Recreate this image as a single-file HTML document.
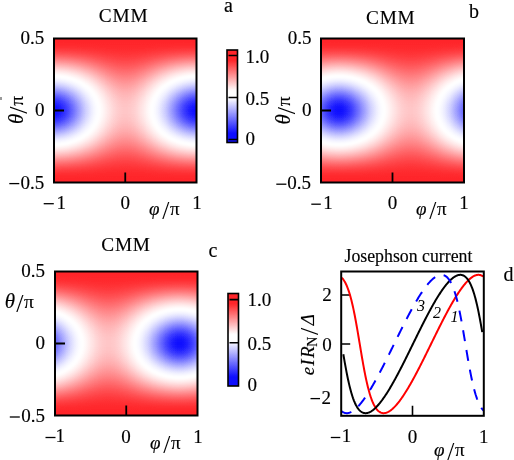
<!DOCTYPE html>
<html><head><meta charset="utf-8"><style>
html,body{margin:0;padding:0;background:#fff;width:514px;height:460px;overflow:hidden}
svg{display:block;will-change:transform}
#w{}
text{fill:#000;stroke:#000;stroke-width:0.15px}
</style></head><body><div id="w"><svg width="514" height="460" viewBox="0 0 514 460" font-family='"Liberation Serif", serif'><defs><filter id="cm" x="0" y="0" width="1" height="1" color-interpolation-filters="sRGB"><feComponentTransfer><feFuncR type="table" tableValues="1.000 1.000 1.000 1.000 1.000 1.000 1.000 1.000 1.000 1.000 1.000 1.000 1.000 1.000 1.000 1.000 1.000 1.000 1.000 1.000 1.000 1.000 1.000 1.000 1.000 1.000 1.000 1.000 1.000 1.000 1.000 1.000 1.000 0.997 0.992 0.983 0.973 0.960 0.945 0.929 0.911 0.891 0.870 0.847 0.822 0.796 0.769 0.740 0.710 0.679 0.646 0.612 0.577 0.540 0.502 0.463 0.423 0.381 0.339 0.295 0.250 0.204 0.157 0.108 0.059"/><feFuncG type="table" tableValues="0.149 0.187 0.225 0.262 0.299 0.335 0.370 0.405 0.439 0.473 0.506 0.538 0.570 0.600 0.631 0.660 0.689 0.716 0.743 0.770 0.795 0.819 0.842 0.865 0.886 0.906 0.925 0.942 0.958 0.973 0.985 0.994 1.000 0.997 0.992 0.983 0.973 0.960 0.945 0.929 0.911 0.891 0.870 0.847 0.822 0.796 0.769 0.740 0.710 0.679 0.646 0.612 0.577 0.540 0.502 0.463 0.423 0.381 0.339 0.295 0.250 0.204 0.157 0.108 0.059"/><feFuncB type="table" tableValues="0.165 0.202 0.239 0.276 0.312 0.347 0.382 0.416 0.450 0.483 0.515 0.546 0.577 0.608 0.637 0.666 0.694 0.722 0.748 0.774 0.799 0.822 0.845 0.867 0.888 0.908 0.926 0.943 0.959 0.973 0.985 0.995 1.000 1.000 1.000 1.000 1.000 1.000 1.000 1.000 1.000 1.000 1.000 1.000 1.000 1.000 1.000 1.000 1.000 1.000 1.000 1.000 1.000 1.000 1.000 1.000 1.000 1.000 1.000 1.000 1.000 1.000 1.000 1.000 1.000"/></feComponentTransfer></filter><filter id="cmb" x="0" y="0" width="1" height="1" color-interpolation-filters="sRGB"><feComponentTransfer><feFuncR type="table" tableValues="1.000 1.000 1.000 1.000 1.000 1.000 1.000 1.000 1.000 1.000 1.000 1.000 1.000 1.000 1.000 1.000 1.000 1.000 1.000 1.000 1.000 1.000 1.000 1.000 1.000 1.000 1.000 1.000 1.000 1.000 1.000 1.000 1.000 1.000 0.972 0.933 0.895 0.856 0.817 0.779 0.740 0.701 0.663 0.624 0.585 0.546 0.508 0.469 0.430 0.392 0.353 0.314 0.276 0.237 0.198 0.159 0.121 0.082 0.059 0.059 0.059 0.059 0.059 0.059 0.059"/><feFuncG type="table" tableValues="0.149 0.149 0.149 0.149 0.149 0.149 0.149 0.149 0.188 0.228 0.268 0.309 0.349 0.389 0.429 0.470 0.510 0.550 0.591 0.631 0.671 0.712 0.752 0.792 0.832 0.873 0.913 0.953 0.994 1.000 1.000 1.000 1.000 1.000 0.972 0.933 0.895 0.856 0.817 0.779 0.740 0.701 0.663 0.624 0.585 0.546 0.508 0.469 0.430 0.392 0.353 0.314 0.276 0.237 0.198 0.159 0.121 0.082 0.059 0.059 0.059 0.059 0.059 0.059 0.059"/><feFuncB type="table" tableValues="0.165 0.165 0.165 0.165 0.165 0.165 0.165 0.165 0.203 0.242 0.282 0.321 0.361 0.400 0.440 0.480 0.519 0.559 0.598 0.638 0.677 0.717 0.756 0.796 0.835 0.875 0.915 0.954 0.994 1.000 1.000 1.000 1.000 1.000 1.000 1.000 1.000 1.000 1.000 1.000 1.000 1.000 1.000 1.000 1.000 1.000 1.000 1.000 1.000 1.000 1.000 1.000 1.000 1.000 1.000 1.000 1.000 1.000 1.000 1.000 1.000 1.000 1.000 1.000 1.000"/></feComponentTransfer></filter><linearGradient id="ha" x1="0" y1="0" x2="1" y2="0"><stop offset="0.0000" stop-color="rgb(255.0,255.0,255.0)"/><stop offset="0.0125" stop-color="rgb(254.6,254.6,254.6)"/><stop offset="0.0250" stop-color="rgb(253.6,253.6,253.6)"/><stop offset="0.0375" stop-color="rgb(251.9,251.9,251.9)"/><stop offset="0.0500" stop-color="rgb(249.7,249.7,249.7)"/><stop offset="0.0625" stop-color="rgb(247.0,247.0,247.0)"/><stop offset="0.0750" stop-color="rgb(243.7,243.7,243.7)"/><stop offset="0.0875" stop-color="rgb(240.0,240.0,240.0)"/><stop offset="0.1000" stop-color="rgb(235.8,235.8,235.8)"/><stop offset="0.1125" stop-color="rgb(231.2,231.2,231.2)"/><stop offset="0.1250" stop-color="rgb(226.2,226.2,226.2)"/><stop offset="0.1375" stop-color="rgb(220.9,220.9,220.9)"/><stop offset="0.1500" stop-color="rgb(215.2,215.2,215.2)"/><stop offset="0.1625" stop-color="rgb(209.2,209.2,209.2)"/><stop offset="0.1750" stop-color="rgb(203.0,203.0,203.0)"/><stop offset="0.1875" stop-color="rgb(196.6,196.6,196.6)"/><stop offset="0.2000" stop-color="rgb(190.0,190.0,190.0)"/><stop offset="0.2125" stop-color="rgb(183.2,183.2,183.2)"/><stop offset="0.2250" stop-color="rgb(176.4,176.4,176.4)"/><stop offset="0.2375" stop-color="rgb(169.5,169.5,169.5)"/><stop offset="0.2500" stop-color="rgb(162.6,162.6,162.6)"/><stop offset="0.2625" stop-color="rgb(155.7,155.7,155.7)"/><stop offset="0.2750" stop-color="rgb(148.9,148.9,148.9)"/><stop offset="0.2875" stop-color="rgb(142.2,142.2,142.2)"/><stop offset="0.3000" stop-color="rgb(135.7,135.7,135.7)"/><stop offset="0.3125" stop-color="rgb(129.3,129.3,129.3)"/><stop offset="0.3250" stop-color="rgb(123.1,123.1,123.1)"/><stop offset="0.3375" stop-color="rgb(117.3,117.3,117.3)"/><stop offset="0.3500" stop-color="rgb(111.6,111.6,111.6)"/><stop offset="0.3625" stop-color="rgb(106.4,106.4,106.4)"/><stop offset="0.3750" stop-color="rgb(101.4,101.4,101.4)"/><stop offset="0.3875" stop-color="rgb(96.9,96.9,96.9)"/><stop offset="0.4000" stop-color="rgb(92.7,92.7,92.7)"/><stop offset="0.4125" stop-color="rgb(89.0,89.0,89.0)"/><stop offset="0.4250" stop-color="rgb(85.8,85.8,85.8)"/><stop offset="0.4375" stop-color="rgb(83.0,83.0,83.0)"/><stop offset="0.4500" stop-color="rgb(80.7,80.7,80.7)"/><stop offset="0.4625" stop-color="rgb(78.8,78.8,78.8)"/><stop offset="0.4750" stop-color="rgb(77.5,77.5,77.5)"/><stop offset="0.4875" stop-color="rgb(76.8,76.8,76.8)"/><stop offset="0.5000" stop-color="rgb(76.5,76.5,76.5)"/><stop offset="0.5125" stop-color="rgb(76.8,76.8,76.8)"/><stop offset="0.5250" stop-color="rgb(77.5,77.5,77.5)"/><stop offset="0.5375" stop-color="rgb(78.8,78.8,78.8)"/><stop offset="0.5500" stop-color="rgb(80.7,80.7,80.7)"/><stop offset="0.5625" stop-color="rgb(83.0,83.0,83.0)"/><stop offset="0.5750" stop-color="rgb(85.8,85.8,85.8)"/><stop offset="0.5875" stop-color="rgb(89.0,89.0,89.0)"/><stop offset="0.6000" stop-color="rgb(92.7,92.7,92.7)"/><stop offset="0.6125" stop-color="rgb(96.9,96.9,96.9)"/><stop offset="0.6250" stop-color="rgb(101.4,101.4,101.4)"/><stop offset="0.6375" stop-color="rgb(106.4,106.4,106.4)"/><stop offset="0.6500" stop-color="rgb(111.6,111.6,111.6)"/><stop offset="0.6625" stop-color="rgb(117.3,117.3,117.3)"/><stop offset="0.6750" stop-color="rgb(123.1,123.1,123.1)"/><stop offset="0.6875" stop-color="rgb(129.3,129.3,129.3)"/><stop offset="0.7000" stop-color="rgb(135.7,135.7,135.7)"/><stop offset="0.7125" stop-color="rgb(142.2,142.2,142.2)"/><stop offset="0.7250" stop-color="rgb(148.9,148.9,148.9)"/><stop offset="0.7375" stop-color="rgb(155.7,155.7,155.7)"/><stop offset="0.7500" stop-color="rgb(162.6,162.6,162.6)"/><stop offset="0.7625" stop-color="rgb(169.5,169.5,169.5)"/><stop offset="0.7750" stop-color="rgb(176.4,176.4,176.4)"/><stop offset="0.7875" stop-color="rgb(183.2,183.2,183.2)"/><stop offset="0.8000" stop-color="rgb(190.0,190.0,190.0)"/><stop offset="0.8125" stop-color="rgb(196.6,196.6,196.6)"/><stop offset="0.8250" stop-color="rgb(203.0,203.0,203.0)"/><stop offset="0.8375" stop-color="rgb(209.2,209.2,209.2)"/><stop offset="0.8500" stop-color="rgb(215.2,215.2,215.2)"/><stop offset="0.8625" stop-color="rgb(220.9,220.9,220.9)"/><stop offset="0.8750" stop-color="rgb(226.2,226.2,226.2)"/><stop offset="0.8875" stop-color="rgb(231.2,231.2,231.2)"/><stop offset="0.9000" stop-color="rgb(235.8,235.8,235.8)"/><stop offset="0.9125" stop-color="rgb(240.0,240.0,240.0)"/><stop offset="0.9250" stop-color="rgb(243.7,243.7,243.7)"/><stop offset="0.9375" stop-color="rgb(247.0,247.0,247.0)"/><stop offset="0.9500" stop-color="rgb(249.7,249.7,249.7)"/><stop offset="0.9625" stop-color="rgb(251.9,251.9,251.9)"/><stop offset="0.9750" stop-color="rgb(253.6,253.6,253.6)"/><stop offset="0.9875" stop-color="rgb(254.6,254.6,254.6)"/><stop offset="1.0000" stop-color="rgb(255.0,255.0,255.0)"/></linearGradient><linearGradient id="va" x1="0" y1="0" x2="0" y2="1"><stop offset="0.0000" stop-color="#000" stop-opacity="1.0000"/><stop offset="0.0208" stop-color="#000" stop-opacity="1.0000"/><stop offset="0.0417" stop-color="#000" stop-opacity="0.9965"/><stop offset="0.0625" stop-color="#000" stop-opacity="0.9838"/><stop offset="0.0833" stop-color="#000" stop-opacity="0.9619"/><stop offset="0.1042" stop-color="#000" stop-opacity="0.9314"/><stop offset="0.1250" stop-color="#000" stop-opacity="0.8927"/><stop offset="0.1458" stop-color="#000" stop-opacity="0.8465"/><stop offset="0.1667" stop-color="#000" stop-opacity="0.7939"/><stop offset="0.1875" stop-color="#000" stop-opacity="0.7357"/><stop offset="0.2083" stop-color="#000" stop-opacity="0.6731"/><stop offset="0.2292" stop-color="#000" stop-opacity="0.6072"/><stop offset="0.2500" stop-color="#000" stop-opacity="0.5392"/><stop offset="0.2708" stop-color="#000" stop-opacity="0.4706"/><stop offset="0.2917" stop-color="#000" stop-opacity="0.4025"/><stop offset="0.3125" stop-color="#000" stop-opacity="0.3362"/><stop offset="0.3333" stop-color="#000" stop-opacity="0.2730"/><stop offset="0.3542" stop-color="#000" stop-opacity="0.2141"/><stop offset="0.3750" stop-color="#000" stop-opacity="0.1606"/><stop offset="0.3958" stop-color="#000" stop-opacity="0.1135"/><stop offset="0.4167" stop-color="#000" stop-opacity="0.0737"/><stop offset="0.4375" stop-color="#000" stop-opacity="0.0419"/><stop offset="0.4583" stop-color="#000" stop-opacity="0.0188"/><stop offset="0.4792" stop-color="#000" stop-opacity="0.0047"/><stop offset="0.5000" stop-color="#000" stop-opacity="0.0000"/><stop offset="0.5208" stop-color="#000" stop-opacity="0.0047"/><stop offset="0.5417" stop-color="#000" stop-opacity="0.0188"/><stop offset="0.5625" stop-color="#000" stop-opacity="0.0419"/><stop offset="0.5833" stop-color="#000" stop-opacity="0.0737"/><stop offset="0.6042" stop-color="#000" stop-opacity="0.1135"/><stop offset="0.6250" stop-color="#000" stop-opacity="0.1606"/><stop offset="0.6458" stop-color="#000" stop-opacity="0.2141"/><stop offset="0.6667" stop-color="#000" stop-opacity="0.2730"/><stop offset="0.6875" stop-color="#000" stop-opacity="0.3362"/><stop offset="0.7083" stop-color="#000" stop-opacity="0.4025"/><stop offset="0.7292" stop-color="#000" stop-opacity="0.4706"/><stop offset="0.7500" stop-color="#000" stop-opacity="0.5392"/><stop offset="0.7708" stop-color="#000" stop-opacity="0.6072"/><stop offset="0.7917" stop-color="#000" stop-opacity="0.6731"/><stop offset="0.8125" stop-color="#000" stop-opacity="0.7357"/><stop offset="0.8333" stop-color="#000" stop-opacity="0.7939"/><stop offset="0.8542" stop-color="#000" stop-opacity="0.8465"/><stop offset="0.8750" stop-color="#000" stop-opacity="0.8927"/><stop offset="0.8958" stop-color="#000" stop-opacity="0.9314"/><stop offset="0.9167" stop-color="#000" stop-opacity="0.9619"/><stop offset="0.9375" stop-color="#000" stop-opacity="0.9838"/><stop offset="0.9583" stop-color="#000" stop-opacity="0.9965"/><stop offset="0.9792" stop-color="#000" stop-opacity="1.0000"/><stop offset="1.0000" stop-color="#000" stop-opacity="1.0000"/></linearGradient><linearGradient id="hb" x1="0" y1="0" x2="1" y2="0"><stop offset="0.0000" stop-color="rgb(226.2,226.2,226.2)"/><stop offset="0.0125" stop-color="rgb(231.2,231.2,231.2)"/><stop offset="0.0250" stop-color="rgb(235.8,235.8,235.8)"/><stop offset="0.0375" stop-color="rgb(240.0,240.0,240.0)"/><stop offset="0.0500" stop-color="rgb(243.7,243.7,243.7)"/><stop offset="0.0625" stop-color="rgb(247.0,247.0,247.0)"/><stop offset="0.0750" stop-color="rgb(249.7,249.7,249.7)"/><stop offset="0.0875" stop-color="rgb(251.9,251.9,251.9)"/><stop offset="0.1000" stop-color="rgb(253.6,253.6,253.6)"/><stop offset="0.1125" stop-color="rgb(254.6,254.6,254.6)"/><stop offset="0.1250" stop-color="rgb(255.0,255.0,255.0)"/><stop offset="0.1375" stop-color="rgb(254.6,254.6,254.6)"/><stop offset="0.1500" stop-color="rgb(253.6,253.6,253.6)"/><stop offset="0.1625" stop-color="rgb(251.9,251.9,251.9)"/><stop offset="0.1750" stop-color="rgb(249.7,249.7,249.7)"/><stop offset="0.1875" stop-color="rgb(247.0,247.0,247.0)"/><stop offset="0.2000" stop-color="rgb(243.7,243.7,243.7)"/><stop offset="0.2125" stop-color="rgb(240.0,240.0,240.0)"/><stop offset="0.2250" stop-color="rgb(235.8,235.8,235.8)"/><stop offset="0.2375" stop-color="rgb(231.2,231.2,231.2)"/><stop offset="0.2500" stop-color="rgb(226.2,226.2,226.2)"/><stop offset="0.2625" stop-color="rgb(220.9,220.9,220.9)"/><stop offset="0.2750" stop-color="rgb(215.2,215.2,215.2)"/><stop offset="0.2875" stop-color="rgb(209.2,209.2,209.2)"/><stop offset="0.3000" stop-color="rgb(203.0,203.0,203.0)"/><stop offset="0.3125" stop-color="rgb(196.6,196.6,196.6)"/><stop offset="0.3250" stop-color="rgb(190.0,190.0,190.0)"/><stop offset="0.3375" stop-color="rgb(183.2,183.2,183.2)"/><stop offset="0.3500" stop-color="rgb(176.4,176.4,176.4)"/><stop offset="0.3625" stop-color="rgb(169.5,169.5,169.5)"/><stop offset="0.3750" stop-color="rgb(162.6,162.6,162.6)"/><stop offset="0.3875" stop-color="rgb(155.7,155.7,155.7)"/><stop offset="0.4000" stop-color="rgb(148.9,148.9,148.9)"/><stop offset="0.4125" stop-color="rgb(142.2,142.2,142.2)"/><stop offset="0.4250" stop-color="rgb(135.7,135.7,135.7)"/><stop offset="0.4375" stop-color="rgb(129.3,129.3,129.3)"/><stop offset="0.4500" stop-color="rgb(123.1,123.1,123.1)"/><stop offset="0.4625" stop-color="rgb(117.3,117.3,117.3)"/><stop offset="0.4750" stop-color="rgb(111.6,111.6,111.6)"/><stop offset="0.4875" stop-color="rgb(106.4,106.4,106.4)"/><stop offset="0.5000" stop-color="rgb(101.4,101.4,101.4)"/><stop offset="0.5125" stop-color="rgb(96.9,96.9,96.9)"/><stop offset="0.5250" stop-color="rgb(92.7,92.7,92.7)"/><stop offset="0.5375" stop-color="rgb(89.0,89.0,89.0)"/><stop offset="0.5500" stop-color="rgb(85.8,85.8,85.8)"/><stop offset="0.5625" stop-color="rgb(83.0,83.0,83.0)"/><stop offset="0.5750" stop-color="rgb(80.7,80.7,80.7)"/><stop offset="0.5875" stop-color="rgb(78.8,78.8,78.8)"/><stop offset="0.6000" stop-color="rgb(77.5,77.5,77.5)"/><stop offset="0.6125" stop-color="rgb(76.8,76.8,76.8)"/><stop offset="0.6250" stop-color="rgb(76.5,76.5,76.5)"/><stop offset="0.6375" stop-color="rgb(76.8,76.8,76.8)"/><stop offset="0.6500" stop-color="rgb(77.5,77.5,77.5)"/><stop offset="0.6625" stop-color="rgb(78.8,78.8,78.8)"/><stop offset="0.6750" stop-color="rgb(80.7,80.7,80.7)"/><stop offset="0.6875" stop-color="rgb(83.0,83.0,83.0)"/><stop offset="0.7000" stop-color="rgb(85.8,85.8,85.8)"/><stop offset="0.7125" stop-color="rgb(89.0,89.0,89.0)"/><stop offset="0.7250" stop-color="rgb(92.7,92.7,92.7)"/><stop offset="0.7375" stop-color="rgb(96.9,96.9,96.9)"/><stop offset="0.7500" stop-color="rgb(101.4,101.4,101.4)"/><stop offset="0.7625" stop-color="rgb(106.4,106.4,106.4)"/><stop offset="0.7750" stop-color="rgb(111.6,111.6,111.6)"/><stop offset="0.7875" stop-color="rgb(117.3,117.3,117.3)"/><stop offset="0.8000" stop-color="rgb(123.1,123.1,123.1)"/><stop offset="0.8125" stop-color="rgb(129.3,129.3,129.3)"/><stop offset="0.8250" stop-color="rgb(135.7,135.7,135.7)"/><stop offset="0.8375" stop-color="rgb(142.2,142.2,142.2)"/><stop offset="0.8500" stop-color="rgb(148.9,148.9,148.9)"/><stop offset="0.8625" stop-color="rgb(155.7,155.7,155.7)"/><stop offset="0.8750" stop-color="rgb(162.6,162.6,162.6)"/><stop offset="0.8875" stop-color="rgb(169.5,169.5,169.5)"/><stop offset="0.9000" stop-color="rgb(176.4,176.4,176.4)"/><stop offset="0.9125" stop-color="rgb(183.2,183.2,183.2)"/><stop offset="0.9250" stop-color="rgb(190.0,190.0,190.0)"/><stop offset="0.9375" stop-color="rgb(196.6,196.6,196.6)"/><stop offset="0.9500" stop-color="rgb(203.0,203.0,203.0)"/><stop offset="0.9625" stop-color="rgb(209.2,209.2,209.2)"/><stop offset="0.9750" stop-color="rgb(215.2,215.2,215.2)"/><stop offset="0.9875" stop-color="rgb(220.9,220.9,220.9)"/><stop offset="1.0000" stop-color="rgb(226.2,226.2,226.2)"/></linearGradient><linearGradient id="vb" x1="0" y1="0" x2="0" y2="1"><stop offset="0.0000" stop-color="#000" stop-opacity="1.0000"/><stop offset="0.0208" stop-color="#000" stop-opacity="1.0000"/><stop offset="0.0417" stop-color="#000" stop-opacity="0.9965"/><stop offset="0.0625" stop-color="#000" stop-opacity="0.9838"/><stop offset="0.0833" stop-color="#000" stop-opacity="0.9619"/><stop offset="0.1042" stop-color="#000" stop-opacity="0.9314"/><stop offset="0.1250" stop-color="#000" stop-opacity="0.8927"/><stop offset="0.1458" stop-color="#000" stop-opacity="0.8465"/><stop offset="0.1667" stop-color="#000" stop-opacity="0.7939"/><stop offset="0.1875" stop-color="#000" stop-opacity="0.7357"/><stop offset="0.2083" stop-color="#000" stop-opacity="0.6731"/><stop offset="0.2292" stop-color="#000" stop-opacity="0.6072"/><stop offset="0.2500" stop-color="#000" stop-opacity="0.5392"/><stop offset="0.2708" stop-color="#000" stop-opacity="0.4706"/><stop offset="0.2917" stop-color="#000" stop-opacity="0.4025"/><stop offset="0.3125" stop-color="#000" stop-opacity="0.3362"/><stop offset="0.3333" stop-color="#000" stop-opacity="0.2730"/><stop offset="0.3542" stop-color="#000" stop-opacity="0.2141"/><stop offset="0.3750" stop-color="#000" stop-opacity="0.1606"/><stop offset="0.3958" stop-color="#000" stop-opacity="0.1135"/><stop offset="0.4167" stop-color="#000" stop-opacity="0.0737"/><stop offset="0.4375" stop-color="#000" stop-opacity="0.0419"/><stop offset="0.4583" stop-color="#000" stop-opacity="0.0188"/><stop offset="0.4792" stop-color="#000" stop-opacity="0.0047"/><stop offset="0.5000" stop-color="#000" stop-opacity="0.0000"/><stop offset="0.5208" stop-color="#000" stop-opacity="0.0047"/><stop offset="0.5417" stop-color="#000" stop-opacity="0.0188"/><stop offset="0.5625" stop-color="#000" stop-opacity="0.0419"/><stop offset="0.5833" stop-color="#000" stop-opacity="0.0737"/><stop offset="0.6042" stop-color="#000" stop-opacity="0.1135"/><stop offset="0.6250" stop-color="#000" stop-opacity="0.1606"/><stop offset="0.6458" stop-color="#000" stop-opacity="0.2141"/><stop offset="0.6667" stop-color="#000" stop-opacity="0.2730"/><stop offset="0.6875" stop-color="#000" stop-opacity="0.3362"/><stop offset="0.7083" stop-color="#000" stop-opacity="0.4025"/><stop offset="0.7292" stop-color="#000" stop-opacity="0.4706"/><stop offset="0.7500" stop-color="#000" stop-opacity="0.5392"/><stop offset="0.7708" stop-color="#000" stop-opacity="0.6072"/><stop offset="0.7917" stop-color="#000" stop-opacity="0.6731"/><stop offset="0.8125" stop-color="#000" stop-opacity="0.7357"/><stop offset="0.8333" stop-color="#000" stop-opacity="0.7939"/><stop offset="0.8542" stop-color="#000" stop-opacity="0.8465"/><stop offset="0.8750" stop-color="#000" stop-opacity="0.8927"/><stop offset="0.8958" stop-color="#000" stop-opacity="0.9314"/><stop offset="0.9167" stop-color="#000" stop-opacity="0.9619"/><stop offset="0.9375" stop-color="#000" stop-opacity="0.9838"/><stop offset="0.9583" stop-color="#000" stop-opacity="0.9965"/><stop offset="0.9792" stop-color="#000" stop-opacity="1.0000"/><stop offset="1.0000" stop-color="#000" stop-opacity="1.0000"/></linearGradient><linearGradient id="hc" x1="0" y1="0" x2="1" y2="0"><stop offset="0.0000" stop-color="rgb(226.2,226.2,226.2)"/><stop offset="0.0125" stop-color="rgb(220.9,220.9,220.9)"/><stop offset="0.0250" stop-color="rgb(215.2,215.2,215.2)"/><stop offset="0.0375" stop-color="rgb(209.2,209.2,209.2)"/><stop offset="0.0500" stop-color="rgb(203.0,203.0,203.0)"/><stop offset="0.0625" stop-color="rgb(196.6,196.6,196.6)"/><stop offset="0.0750" stop-color="rgb(190.0,190.0,190.0)"/><stop offset="0.0875" stop-color="rgb(183.2,183.2,183.2)"/><stop offset="0.1000" stop-color="rgb(176.4,176.4,176.4)"/><stop offset="0.1125" stop-color="rgb(169.5,169.5,169.5)"/><stop offset="0.1250" stop-color="rgb(162.6,162.6,162.6)"/><stop offset="0.1375" stop-color="rgb(155.7,155.7,155.7)"/><stop offset="0.1500" stop-color="rgb(148.9,148.9,148.9)"/><stop offset="0.1625" stop-color="rgb(142.2,142.2,142.2)"/><stop offset="0.1750" stop-color="rgb(135.7,135.7,135.7)"/><stop offset="0.1875" stop-color="rgb(129.3,129.3,129.3)"/><stop offset="0.2000" stop-color="rgb(123.1,123.1,123.1)"/><stop offset="0.2125" stop-color="rgb(117.3,117.3,117.3)"/><stop offset="0.2250" stop-color="rgb(111.6,111.6,111.6)"/><stop offset="0.2375" stop-color="rgb(106.4,106.4,106.4)"/><stop offset="0.2500" stop-color="rgb(101.4,101.4,101.4)"/><stop offset="0.2625" stop-color="rgb(96.9,96.9,96.9)"/><stop offset="0.2750" stop-color="rgb(92.7,92.7,92.7)"/><stop offset="0.2875" stop-color="rgb(89.0,89.0,89.0)"/><stop offset="0.3000" stop-color="rgb(85.8,85.8,85.8)"/><stop offset="0.3125" stop-color="rgb(83.0,83.0,83.0)"/><stop offset="0.3250" stop-color="rgb(80.7,80.7,80.7)"/><stop offset="0.3375" stop-color="rgb(78.8,78.8,78.8)"/><stop offset="0.3500" stop-color="rgb(77.5,77.5,77.5)"/><stop offset="0.3625" stop-color="rgb(76.8,76.8,76.8)"/><stop offset="0.3750" stop-color="rgb(76.5,76.5,76.5)"/><stop offset="0.3875" stop-color="rgb(76.8,76.8,76.8)"/><stop offset="0.4000" stop-color="rgb(77.5,77.5,77.5)"/><stop offset="0.4125" stop-color="rgb(78.8,78.8,78.8)"/><stop offset="0.4250" stop-color="rgb(80.7,80.7,80.7)"/><stop offset="0.4375" stop-color="rgb(83.0,83.0,83.0)"/><stop offset="0.4500" stop-color="rgb(85.8,85.8,85.8)"/><stop offset="0.4625" stop-color="rgb(89.0,89.0,89.0)"/><stop offset="0.4750" stop-color="rgb(92.7,92.7,92.7)"/><stop offset="0.4875" stop-color="rgb(96.9,96.9,96.9)"/><stop offset="0.5000" stop-color="rgb(101.4,101.4,101.4)"/><stop offset="0.5125" stop-color="rgb(106.4,106.4,106.4)"/><stop offset="0.5250" stop-color="rgb(111.6,111.6,111.6)"/><stop offset="0.5375" stop-color="rgb(117.3,117.3,117.3)"/><stop offset="0.5500" stop-color="rgb(123.1,123.1,123.1)"/><stop offset="0.5625" stop-color="rgb(129.3,129.3,129.3)"/><stop offset="0.5750" stop-color="rgb(135.7,135.7,135.7)"/><stop offset="0.5875" stop-color="rgb(142.2,142.2,142.2)"/><stop offset="0.6000" stop-color="rgb(148.9,148.9,148.9)"/><stop offset="0.6125" stop-color="rgb(155.7,155.7,155.7)"/><stop offset="0.6250" stop-color="rgb(162.6,162.6,162.6)"/><stop offset="0.6375" stop-color="rgb(169.5,169.5,169.5)"/><stop offset="0.6500" stop-color="rgb(176.4,176.4,176.4)"/><stop offset="0.6625" stop-color="rgb(183.2,183.2,183.2)"/><stop offset="0.6750" stop-color="rgb(190.0,190.0,190.0)"/><stop offset="0.6875" stop-color="rgb(196.6,196.6,196.6)"/><stop offset="0.7000" stop-color="rgb(203.0,203.0,203.0)"/><stop offset="0.7125" stop-color="rgb(209.2,209.2,209.2)"/><stop offset="0.7250" stop-color="rgb(215.2,215.2,215.2)"/><stop offset="0.7375" stop-color="rgb(220.9,220.9,220.9)"/><stop offset="0.7500" stop-color="rgb(226.2,226.2,226.2)"/><stop offset="0.7625" stop-color="rgb(231.2,231.2,231.2)"/><stop offset="0.7750" stop-color="rgb(235.8,235.8,235.8)"/><stop offset="0.7875" stop-color="rgb(240.0,240.0,240.0)"/><stop offset="0.8000" stop-color="rgb(243.7,243.7,243.7)"/><stop offset="0.8125" stop-color="rgb(247.0,247.0,247.0)"/><stop offset="0.8250" stop-color="rgb(249.7,249.7,249.7)"/><stop offset="0.8375" stop-color="rgb(251.9,251.9,251.9)"/><stop offset="0.8500" stop-color="rgb(253.6,253.6,253.6)"/><stop offset="0.8625" stop-color="rgb(254.6,254.6,254.6)"/><stop offset="0.8750" stop-color="rgb(255.0,255.0,255.0)"/><stop offset="0.8875" stop-color="rgb(254.6,254.6,254.6)"/><stop offset="0.9000" stop-color="rgb(253.6,253.6,253.6)"/><stop offset="0.9125" stop-color="rgb(251.9,251.9,251.9)"/><stop offset="0.9250" stop-color="rgb(249.7,249.7,249.7)"/><stop offset="0.9375" stop-color="rgb(247.0,247.0,247.0)"/><stop offset="0.9500" stop-color="rgb(243.7,243.7,243.7)"/><stop offset="0.9625" stop-color="rgb(240.0,240.0,240.0)"/><stop offset="0.9750" stop-color="rgb(235.8,235.8,235.8)"/><stop offset="0.9875" stop-color="rgb(231.2,231.2,231.2)"/><stop offset="1.0000" stop-color="rgb(226.2,226.2,226.2)"/></linearGradient><linearGradient id="vc" x1="0" y1="0" x2="0" y2="1"><stop offset="0.0000" stop-color="#000" stop-opacity="1.0000"/><stop offset="0.0208" stop-color="#000" stop-opacity="1.0000"/><stop offset="0.0417" stop-color="#000" stop-opacity="0.9965"/><stop offset="0.0625" stop-color="#000" stop-opacity="0.9838"/><stop offset="0.0833" stop-color="#000" stop-opacity="0.9619"/><stop offset="0.1042" stop-color="#000" stop-opacity="0.9314"/><stop offset="0.1250" stop-color="#000" stop-opacity="0.8927"/><stop offset="0.1458" stop-color="#000" stop-opacity="0.8465"/><stop offset="0.1667" stop-color="#000" stop-opacity="0.7939"/><stop offset="0.1875" stop-color="#000" stop-opacity="0.7357"/><stop offset="0.2083" stop-color="#000" stop-opacity="0.6731"/><stop offset="0.2292" stop-color="#000" stop-opacity="0.6072"/><stop offset="0.2500" stop-color="#000" stop-opacity="0.5392"/><stop offset="0.2708" stop-color="#000" stop-opacity="0.4706"/><stop offset="0.2917" stop-color="#000" stop-opacity="0.4025"/><stop offset="0.3125" stop-color="#000" stop-opacity="0.3362"/><stop offset="0.3333" stop-color="#000" stop-opacity="0.2730"/><stop offset="0.3542" stop-color="#000" stop-opacity="0.2141"/><stop offset="0.3750" stop-color="#000" stop-opacity="0.1606"/><stop offset="0.3958" stop-color="#000" stop-opacity="0.1135"/><stop offset="0.4167" stop-color="#000" stop-opacity="0.0737"/><stop offset="0.4375" stop-color="#000" stop-opacity="0.0419"/><stop offset="0.4583" stop-color="#000" stop-opacity="0.0188"/><stop offset="0.4792" stop-color="#000" stop-opacity="0.0047"/><stop offset="0.5000" stop-color="#000" stop-opacity="0.0000"/><stop offset="0.5208" stop-color="#000" stop-opacity="0.0047"/><stop offset="0.5417" stop-color="#000" stop-opacity="0.0188"/><stop offset="0.5625" stop-color="#000" stop-opacity="0.0419"/><stop offset="0.5833" stop-color="#000" stop-opacity="0.0737"/><stop offset="0.6042" stop-color="#000" stop-opacity="0.1135"/><stop offset="0.6250" stop-color="#000" stop-opacity="0.1606"/><stop offset="0.6458" stop-color="#000" stop-opacity="0.2141"/><stop offset="0.6667" stop-color="#000" stop-opacity="0.2730"/><stop offset="0.6875" stop-color="#000" stop-opacity="0.3362"/><stop offset="0.7083" stop-color="#000" stop-opacity="0.4025"/><stop offset="0.7292" stop-color="#000" stop-opacity="0.4706"/><stop offset="0.7500" stop-color="#000" stop-opacity="0.5392"/><stop offset="0.7708" stop-color="#000" stop-opacity="0.6072"/><stop offset="0.7917" stop-color="#000" stop-opacity="0.6731"/><stop offset="0.8125" stop-color="#000" stop-opacity="0.7357"/><stop offset="0.8333" stop-color="#000" stop-opacity="0.7939"/><stop offset="0.8542" stop-color="#000" stop-opacity="0.8465"/><stop offset="0.8750" stop-color="#000" stop-opacity="0.8927"/><stop offset="0.8958" stop-color="#000" stop-opacity="0.9314"/><stop offset="0.9167" stop-color="#000" stop-opacity="0.9619"/><stop offset="0.9375" stop-color="#000" stop-opacity="0.9838"/><stop offset="0.9583" stop-color="#000" stop-opacity="0.9965"/><stop offset="0.9792" stop-color="#000" stop-opacity="1.0000"/><stop offset="1.0000" stop-color="#000" stop-opacity="1.0000"/></linearGradient><clipPath id="dclip"><rect x="341.2" y="271.5" width="142.6" height="144.3"/></clipPath></defs><g filter="url(#cm)"><rect x="54" y="38.5" width="142.5" height="144" fill="url(#ha)"/><rect x="54" y="38.5" width="142.5" height="144" fill="url(#va)"/></g><path d="M54,110.5h10M125.25,182.5v-10" stroke="#000" stroke-width="1.8" fill="none"/><rect x="54" y="38.5" width="142.5" height="144" fill="none" stroke="#000" stroke-width="2"/><text x="123.6" y="21.9" font-size="19.3" text-anchor="middle" letter-spacing="0.8">CMM</text><text x="224" y="11.7" font-size="20">a</text><text x="44.3" y="43.5" font-size="19" text-anchor="end">0.5</text><text x="44.5" y="116" font-size="19" text-anchor="end">0</text><text x="44.3" y="188.8" font-size="19" text-anchor="end">0.5</text><path d="M9.3,183.6H19.3" stroke="#000" stroke-width="1.3"/><path d="M43.7,203.7H53.8" stroke="#000" stroke-width="1.3"/><text x="56.5" y="209" font-size="19">1</text><text x="125.2" y="209" font-size="19" text-anchor="middle">0</text><text x="197" y="209" font-size="19" text-anchor="middle">1</text><text x="149" y="215" font-size="19" font-style="italic">φ</text><text x="162.3" y="219.4" font-size="25.5" style="stroke:none">/</text><text x="169.9" y="215" font-size="19">π</text><g transform="translate(22.6,122.7) rotate(-90)"><text x="-1.2" y="0" font-size="21" font-style="italic">θ</text><text x="9" y="4.6" font-size="26" style="stroke:none">/</text><text x="17" y="0" font-size="19.5">π</text></g><linearGradient id="cb50" x1="0" y1="0" x2="0" y2="1"><stop offset="0" stop-color="#000"/><stop offset="1" stop-color="#fff"/></linearGradient><rect x="227" y="50" width="10.5" height="92.5" fill="url(#cb50)" filter="url(#cmb)"/><rect x="227" y="50" width="10.5" height="92.5" fill="none" stroke="#000" stroke-width="1.6"/><path d="M228.5,55.5H237.5M228.5,97.5H237.5M228.5,139.5H237.5" stroke="#000" stroke-width="1.6"/><text x="245.5" y="62.7" font-size="19">1.0</text><text x="245.5" y="105" font-size="19">0.5</text><text x="245.5" y="145.3" font-size="19">0</text><g filter="url(#cm)"><rect x="321" y="38.5" width="143" height="144" fill="url(#hb)"/><rect x="321" y="38.5" width="143" height="144" fill="url(#vb)"/></g><path d="M321,110.5h10M392.5,182.5v-10" stroke="#000" stroke-width="1.8" fill="none"/><rect x="321" y="38.5" width="143" height="144" fill="none" stroke="#000" stroke-width="2"/><text x="390.8" y="23.5" font-size="19.3" text-anchor="middle" letter-spacing="0.8">CMM</text><text x="469" y="17.5" font-size="20">b</text><text x="311.5" y="43.5" font-size="19" text-anchor="end">0.5</text><text x="311.5" y="116" font-size="19" text-anchor="end">0</text><text x="311" y="189" font-size="19" text-anchor="end">0.5</text><path d="M276.3,184.2H286.4" stroke="#000" stroke-width="1.3"/><path d="M311.3,204.2H320.8" stroke="#000" stroke-width="1.3"/><text x="323.3" y="209" font-size="19">1</text><text x="392.5" y="209" font-size="19" text-anchor="middle">0</text><text x="464" y="209" font-size="19" text-anchor="middle">1</text><text x="416" y="215" font-size="19" font-style="italic">φ</text><text x="429.3" y="219.4" font-size="25.5" style="stroke:none">/</text><text x="436.9" y="215" font-size="19">π</text><g transform="translate(290,123.2) rotate(-90)"><text x="-1.2" y="0" font-size="21" font-style="italic">θ</text><text x="9" y="4.6" font-size="26" style="stroke:none">/</text><text x="17" y="0" font-size="19.5">π</text></g><g filter="url(#cm)"><rect x="55" y="271.5" width="142.5" height="144" fill="url(#hc)"/><rect x="55" y="271.5" width="142.5" height="144" fill="url(#vc)"/></g><path d="M55,343.5h10M126.25,415.5v-10" stroke="#000" stroke-width="1.8" fill="none"/><rect x="55" y="271.5" width="142.5" height="144" fill="none" stroke="#000" stroke-width="2"/><text x="126" y="251.4" font-size="19.3" text-anchor="middle" letter-spacing="0.8">CMM</text><text x="208.5" y="256.5" font-size="20">c</text><text x="45" y="277.3" font-size="19" text-anchor="end">0.5</text><text x="45" y="349.2" font-size="19" text-anchor="end">0</text><text x="45" y="421.8" font-size="19" text-anchor="end">0.5</text><path d="M9.8,417H19.8" stroke="#000" stroke-width="1.3"/><path d="M45.5,437.5H55.5" stroke="#000" stroke-width="1.3"/><text x="55.5" y="442.2" font-size="19">1</text><text x="126" y="443" font-size="19" text-anchor="middle">0</text><text x="198" y="443" font-size="19" text-anchor="middle">1</text><text x="150" y="449" font-size="19" font-style="italic">φ</text><text x="163.3" y="453.4" font-size="25.5" style="stroke:none">/</text><text x="170.9" y="449" font-size="19">π</text><text x="4.8" y="308" font-size="21" font-style="italic">θ</text><text x="16.3" y="311.5" font-size="26" style="stroke:none">/</text><text x="23.9" y="308" font-size="19.5">π</text><linearGradient id="cb293" x1="0" y1="0" x2="0" y2="1"><stop offset="0" stop-color="#000"/><stop offset="1" stop-color="#fff"/></linearGradient><rect x="228" y="293.5" width="10.5" height="92.5" fill="url(#cb293)" filter="url(#cmb)"/><rect x="228" y="293.5" width="10.5" height="92.5" fill="none" stroke="#000" stroke-width="1.6"/><path d="M229.5,299.6H238.5M229.5,342.7H238.5" stroke="#000" stroke-width="1.6"/><text x="247.5" y="306" font-size="19">1.0</text><text x="247.5" y="350" font-size="19">0.5</text><text x="247.5" y="391" font-size="19">0</text><path d="M341.2,295.0h9M341.2,344.0h9M412.5,415.8v-10" stroke="#000" stroke-width="1.6"/><polyline points="341.91,277.80 342.39,278.32 342.86,278.89 343.33,279.51 343.80,280.19 344.27,280.92 344.75,281.72 345.22,282.57 345.69,283.48 346.16,284.46 346.63,285.51 347.11,286.63 347.58,287.81 348.05,289.07 348.52,290.41 349.00,291.82 349.47,293.31 349.94,294.88 350.41,296.53 350.88,298.26 351.36,300.08 351.83,301.98 352.30,303.96 352.77,306.02 353.24,308.16 353.72,310.39 354.19,312.69 354.66,315.06 355.13,317.51 355.61,320.02 356.08,322.60 356.55,325.23 357.02,327.92 357.49,330.65 357.97,333.41 358.44,336.21 358.91,339.03 359.38,341.86 359.85,344.70 360.33,347.54 360.80,350.37 361.27,353.18 361.74,355.96 362.22,358.71 362.69,361.42 363.16,364.08 363.63,366.68 364.10,369.23 364.58,371.71 365.05,374.12 365.52,376.46 365.99,378.72 366.46,380.91 366.94,383.01 367.41,385.03 367.88,386.97 368.35,388.83 368.83,390.60 369.30,392.30 369.77,393.91 370.24,395.44 370.71,396.89 371.19,398.26 371.66,399.56 372.13,400.78 372.60,401.93 373.08,403.02 373.55,404.03 374.02,404.98 374.49,405.86 374.96,406.68 375.44,407.45 375.91,408.15 376.38,408.80 376.85,409.40 377.32,409.95 377.80,410.44 378.27,410.89 378.74,411.30 379.21,411.65 379.69,411.97 380.16,412.25 380.63,412.48 381.10,412.68 381.57,412.85 382.05,412.97 382.52,413.07 382.99,413.13 383.46,413.15 383.93,413.15 384.41,413.12 384.88,413.06 385.35,412.98 385.82,412.86 386.30,412.72 386.77,412.56 387.24,412.37 387.71,412.16 388.18,411.93 388.66,411.68 389.13,411.40 389.60,411.10 390.07,410.79 390.54,410.45 391.02,410.10 391.49,409.72 391.96,409.33 392.43,408.93 392.91,408.50 393.38,408.06 393.85,407.61 394.32,407.14 394.79,406.65 395.27,406.15 395.74,405.63 396.21,405.10 396.68,404.56 397.15,404.00 397.63,403.43 398.10,402.85 398.57,402.26 399.04,401.65 399.52,401.04 399.99,400.41 400.46,399.77 400.93,399.12 401.40,398.46 401.88,397.78 402.35,397.10 402.82,396.41 403.29,395.71 403.77,395.00 404.24,394.28 404.71,393.55 405.18,392.81 405.65,392.06 406.13,391.31 406.60,390.54 407.07,389.77 407.54,388.99 408.01,388.21 408.49,387.41 408.96,386.61 409.43,385.80 409.90,384.99 410.38,384.17 410.85,383.34 411.32,382.50 411.79,381.66 412.26,380.82 412.74,379.96 413.21,379.10 413.68,378.24 414.15,377.37 414.62,376.50 415.10,375.62 415.57,374.73 416.04,373.84 416.51,372.95 416.99,372.05 417.46,371.15 417.93,370.24 418.40,369.33 418.87,368.42 419.35,367.50 419.82,366.58 420.29,365.65 420.76,364.72 421.23,363.79 421.71,362.86 422.18,361.92 422.65,360.98 423.12,360.04 423.60,359.09 424.07,358.15 424.54,357.20 425.01,356.25 425.48,355.29 425.96,354.34 426.43,353.38 426.90,352.43 427.37,351.47 427.84,350.51 428.32,349.55 428.79,348.59 429.26,347.62 429.73,346.66 430.21,345.70 430.68,344.73 431.15,343.77 431.62,342.81 432.09,341.84 432.57,340.88 433.04,339.92 433.51,338.96 433.98,338.00 434.46,337.04 434.93,336.08 435.40,335.12 435.87,334.16 436.34,333.21 436.82,332.25 437.29,331.30 437.76,330.35 438.23,329.40 438.70,328.46 439.18,327.51 439.65,326.57 440.12,325.64 440.59,324.70 441.07,323.77 441.54,322.84 442.01,321.91 442.48,320.99 442.95,320.07 443.43,319.15 443.90,318.24 444.37,317.33 444.84,316.42 445.31,315.52 445.79,314.63 446.26,313.73 446.73,312.85 447.20,311.97 447.68,311.09 448.15,310.22 448.62,309.35 449.09,308.49 449.56,307.63 450.04,306.78 450.51,305.94 450.98,305.10 451.45,304.27 451.92,303.44 452.40,302.62 452.87,301.81 453.34,301.01 453.81,300.21 454.29,299.42 454.76,298.64 455.23,297.86 455.70,297.09 456.17,296.33 456.65,295.58 457.12,294.84 457.59,294.11 458.06,293.38 458.53,292.66 459.01,291.96 459.48,291.26 459.95,290.57 460.42,289.90 460.90,289.23 461.37,288.57 461.84,287.93 462.31,287.29 462.78,286.67 463.26,286.06 463.73,285.46 464.20,284.87 464.67,284.29 465.15,283.73 465.62,283.18 466.09,282.64 466.56,282.12 467.03,281.61 467.51,281.12 467.98,280.64 468.45,280.17 468.92,279.73 469.39,279.29 469.87,278.88 470.34,278.48 470.81,278.10 471.28,277.73 471.76,277.39 472.23,277.06 472.70,276.75 473.17,276.47 473.64,276.20 474.12,275.96 474.59,275.73 475.06,275.53 475.53,275.36 476.00,275.21 476.48,275.08 476.95,274.98 477.42,274.91 477.89,274.86 478.37,274.84 478.84,274.86 479.31,274.90 479.78,274.97 480.25,275.08 480.73,275.23 481.20,275.41 481.67,275.62 482.14,275.88 482.61,276.17 483.09,276.51" fill="none" stroke="#ff0000" stroke-width="2" clip-path="url(#dclip)"/><polyline points="343.34,354.23 343.80,356.96 344.27,359.65 344.73,362.30 345.20,364.90 345.66,367.44 346.13,369.93 346.59,372.35 347.06,374.71 347.52,376.99 347.98,379.20 348.45,381.33 348.91,383.39 349.38,385.36 349.84,387.26 350.31,389.07 350.77,390.81 351.24,392.46 351.70,394.04 352.16,395.54 352.63,396.96 353.09,398.31 353.56,399.59 354.02,400.79 354.49,401.92 354.95,402.99 355.42,403.99 355.88,404.92 356.35,405.80 356.81,406.61 357.27,407.37 357.74,408.07 358.20,408.71 358.67,409.31 359.13,409.86 359.60,410.35 360.06,410.80 360.53,411.21 360.99,411.57 361.46,411.90 361.92,412.18 362.38,412.42 362.85,412.63 363.31,412.80 363.78,412.93 364.24,413.04 364.71,413.11 365.17,413.15 365.64,413.16 366.10,413.14 366.57,413.09 367.03,413.02 367.49,412.92 367.96,412.79 368.42,412.65 368.89,412.47 369.35,412.28 369.82,412.06 370.28,411.82 370.75,411.56 371.21,411.28 371.67,410.98 372.14,410.66 372.60,410.33 373.07,409.97 373.53,409.60 374.00,409.21 374.46,408.80 374.93,408.38 375.39,407.95 375.86,407.49 376.32,407.03 376.78,406.54 377.25,406.05 377.71,405.54 378.18,405.01 378.64,404.48 379.11,403.93 379.57,403.37 380.04,402.79 380.50,402.21 380.97,401.61 381.43,401.00 381.89,400.39 382.36,399.76 382.82,399.11 383.29,398.46 383.75,397.80 384.22,397.13 384.68,396.45 385.15,395.76 385.61,395.06 386.08,394.36 386.54,393.64 387.00,392.91 387.47,392.18 387.93,391.44 388.40,390.69 388.86,389.93 389.33,389.17 389.79,388.40 390.26,387.62 390.72,386.83 391.18,386.04 391.65,385.24 392.11,384.43 392.58,383.62 393.04,382.80 393.51,381.97 393.97,381.14 394.44,380.31 394.90,379.46 395.37,378.62 395.83,377.76 396.29,376.90 396.76,376.04 397.22,375.17 397.69,374.30 398.15,373.42 398.62,372.54 399.08,371.66 399.55,370.77 400.01,369.87 400.48,368.98 400.94,368.07 401.40,367.17 401.87,366.26 402.33,365.35 402.80,364.44 403.26,363.52 403.73,362.60 404.19,361.68 404.66,360.75 405.12,359.82 405.59,358.89 406.05,357.96 406.51,357.03 406.98,356.09 407.44,355.15 407.91,354.21 408.37,353.27 408.84,352.33 409.30,351.39 409.77,350.44 410.23,349.50 410.69,348.55 411.16,347.61 411.62,346.66 412.09,345.71 412.55,344.76 413.02,343.82 413.48,342.87 413.95,341.92 414.41,340.97 414.88,340.03 415.34,339.08 415.80,338.14 416.27,337.19 416.73,336.25 417.20,335.30 417.66,334.36 418.13,333.42 418.59,332.48 419.06,331.55 419.52,330.61 419.99,329.68 420.45,328.75 420.91,327.82 421.38,326.89 421.84,325.97 422.31,325.05 422.77,324.13 423.24,323.21 423.70,322.30 424.17,321.39 424.63,320.48 425.10,319.58 425.56,318.68 426.02,317.78 426.49,316.89 426.95,316.00 427.42,315.12 427.88,314.24 428.35,313.36 428.81,312.49 429.28,311.63 429.74,310.76 430.20,309.91 430.67,309.06 431.13,308.21 431.60,307.37 432.06,306.54 432.53,305.71 432.99,304.88 433.46,304.07 433.92,303.26 434.39,302.45 434.85,301.66 435.31,300.86 435.78,300.08 436.24,299.30 436.71,298.54 437.17,297.77 437.64,297.02 438.10,296.27 438.57,295.53 439.03,294.80 439.50,294.08 439.96,293.37 440.42,292.67 440.89,291.97 441.35,291.28 441.82,290.61 442.28,289.94 442.75,289.28 443.21,288.64 443.68,288.00 444.14,287.37 444.61,286.76 445.07,286.16 445.53,285.56 446.00,284.98 446.46,284.41 446.93,283.86 447.39,283.31 447.86,282.78 448.32,282.26 448.79,281.76 449.25,281.27 449.71,280.79 450.18,280.33 450.64,279.88 451.11,279.45 451.57,279.04 452.04,278.64 452.50,278.25 452.97,277.89 453.43,277.54 453.90,277.21 454.36,276.90 454.82,276.61 455.29,276.34 455.75,276.08 456.22,275.85 456.68,275.64 457.15,275.46 457.61,275.29 458.08,275.15 458.54,275.04 459.01,274.95 459.47,274.89 459.93,274.85 460.40,274.84 460.86,274.86 461.33,274.92 461.79,275.00 462.26,275.12 462.72,275.26 463.19,275.45 463.65,275.67 464.12,275.93 464.58,276.22 465.04,276.56 465.51,276.94 465.97,277.36 466.44,277.83 466.90,278.35 467.37,278.91 467.83,279.53 468.30,280.20 468.76,280.92 469.22,281.70 469.69,282.53 470.15,283.43 470.62,284.39 471.08,285.42 471.55,286.51 472.01,287.67 472.48,288.90 472.94,290.20 473.41,291.58 473.87,293.03 474.33,294.56 474.80,296.17 475.26,297.85 475.73,299.62 476.19,301.46 476.66,303.39 477.12,305.40 477.59,307.48 478.05,309.65 478.52,311.88 478.98,314.20 479.44,316.58 479.91,319.02 480.37,321.53 480.84,324.10 481.30,326.72 481.77,329.39 482.23,332.09" fill="none" stroke="#000000" stroke-width="2" clip-path="url(#dclip)"/><polyline points="341.20,410.77 341.68,411.19 342.15,411.56 342.63,411.89 343.11,412.18 343.58,412.43 344.06,412.64 344.54,412.81 345.02,412.95 345.49,413.05 345.97,413.12 346.45,413.15 346.92,413.16 347.40,413.13 347.88,413.07 348.35,412.99 348.83,412.88 349.31,412.74 349.78,412.58 350.26,412.39 350.74,412.18 351.22,411.95 351.69,411.69 352.17,411.42 352.65,411.12 353.12,410.80 353.60,410.46 354.08,410.10 354.55,409.73 355.03,409.33 355.51,408.92 355.98,408.49 356.46,408.05 356.94,407.59 357.42,407.11 357.89,406.62 358.37,406.11 358.85,405.59 359.32,405.05 359.80,404.50 360.28,403.94 360.75,403.36 361.23,402.77 361.71,402.17 362.18,401.56 362.66,400.93 363.14,400.29 363.62,399.65 364.09,398.99 364.57,398.32 365.05,397.64 365.52,396.94 366.00,396.24 366.48,395.53 366.95,394.81 367.43,394.08 367.91,393.34 368.38,392.59 368.86,391.84 369.34,391.07 369.82,390.30 370.29,389.52 370.77,388.73 371.25,387.93 371.72,387.13 372.20,386.31 372.68,385.50 373.15,384.67 373.63,383.84 374.11,383.00 374.58,382.15 375.06,381.30 375.54,380.44 376.02,379.58 376.49,378.71 376.97,377.83 377.45,376.95 377.92,376.07 378.40,375.17 378.88,374.28 379.35,373.38 379.83,372.47 380.31,371.56 380.78,370.65 381.26,369.73 381.74,368.81 382.22,367.88 382.69,366.95 383.17,366.02 383.65,365.08 384.12,364.14 384.60,363.20 385.08,362.26 385.55,361.31 386.03,360.36 386.51,359.40 386.98,358.45 387.46,357.49 387.94,356.53 388.42,355.57 388.89,354.60 389.37,353.64 389.85,352.67 390.32,351.70 390.80,350.73 391.28,349.76 391.75,348.79 392.23,347.82 392.71,346.85 393.18,345.88 393.66,344.90 394.14,343.93 394.62,342.96 395.09,341.99 395.57,341.01 396.05,340.04 396.52,339.07 397.00,338.10 397.48,337.13 397.95,336.16 398.43,335.19 398.91,334.22 399.38,333.26 399.86,332.30 400.34,331.34 400.82,330.38 401.29,329.42 401.77,328.46 402.25,327.51 402.72,326.56 403.20,325.61 403.68,324.67 404.15,323.72 404.63,322.78 405.11,321.85 405.58,320.92 406.06,319.99 406.54,319.06 407.02,318.14 407.49,317.22 407.97,316.31 408.45,315.40 408.92,314.49 409.40,313.59 409.88,312.70 410.35,311.81 410.83,310.92 411.31,310.04 411.78,309.17 412.26,308.30 412.74,307.44 413.22,306.58 413.69,305.73 414.17,304.88 414.65,304.05 415.12,303.21 415.60,302.39 416.08,301.57 416.55,300.76 417.03,299.96 417.51,299.16 417.98,298.37 418.46,297.59 418.94,296.82 419.42,296.05 419.89,295.30 420.37,294.55 420.85,293.81 421.32,293.09 421.80,292.37 422.28,291.66 422.75,290.96 423.23,290.27 423.71,289.59 424.18,288.92 424.66,288.26 425.14,287.61 425.62,286.98 426.09,286.35 426.57,285.74 427.05,285.14 427.52,284.56 428.00,283.98 428.48,283.42 428.95,282.87 429.43,282.34 429.91,281.82 430.38,281.31 430.86,280.82 431.34,280.35 431.82,279.89 432.29,279.45 432.77,279.02 433.25,278.61 433.72,278.22 434.20,277.85 434.68,277.49 435.15,277.16 435.63,276.84 436.11,276.54 436.58,276.27 437.06,276.02 437.54,275.79 438.02,275.58 438.49,275.40 438.97,275.24 439.45,275.10 439.92,275.00 440.40,274.92 440.88,274.87 441.35,274.84 441.83,274.85 442.31,274.89 442.78,274.96 443.26,275.07 443.74,275.21 444.22,275.39 444.69,275.60 445.17,275.86 445.65,276.15 446.12,276.49 446.60,276.87 447.08,277.30 447.55,277.77 448.03,278.29 448.51,278.87 448.98,279.50 449.46,280.18 449.94,280.92 450.42,281.72 450.89,282.58 451.37,283.51 451.85,284.50 452.32,285.56 452.80,286.69 453.28,287.90 453.75,289.17 454.23,290.53 454.71,291.96 455.18,293.47 455.66,295.07 456.14,296.75 456.62,298.51 457.09,300.35 457.57,302.28 458.05,304.30 458.52,306.40 459.00,308.58 459.48,310.84 459.95,313.18 460.43,315.59 460.91,318.08 461.38,320.63 461.86,323.25 462.34,325.92 462.82,328.65 463.29,331.41 463.77,334.22 464.25,337.05 464.72,339.90 465.20,342.77 465.68,345.64 466.15,348.50 466.63,351.35 467.11,354.18 467.58,356.98 468.06,359.74 468.54,362.46 469.02,365.13 469.49,367.73 469.97,370.28 470.45,372.75 470.92,375.16 471.40,377.49 471.88,379.74 472.35,381.91 472.83,383.99 473.31,386.00 473.78,387.91 474.26,389.75 474.74,391.50 475.22,393.16 475.69,394.75 476.17,396.25 476.65,397.67 477.12,399.01 477.60,400.28 478.08,401.47 478.55,402.59 479.03,403.64 479.51,404.63 479.98,405.54 480.46,406.40 480.94,407.19 481.42,407.92 481.89,408.60 482.37,409.22 482.85,409.78 483.32,410.30 483.80,410.77" fill="none" stroke="#0000ff" stroke-width="2" stroke-dasharray="11 9" clip-path="url(#dclip)"/><rect x="341.2" y="271.5" width="142.6" height="144.3" fill="none" stroke="#000" stroke-width="2"/><text x="344.5" y="262.4" font-size="17.8">Josephson current</text><text x="503.5" y="281" font-size="20">d</text><text x="331.8" y="300.7" font-size="19" text-anchor="end">2</text><text x="331.8" y="350.7" font-size="19" text-anchor="end">0</text><text x="331" y="404" font-size="19" text-anchor="end">2</text><path d="M310.5,398.6H320" stroke="#000" stroke-width="1.3"/><path d="M330.8,437.5H340.3" stroke="#000" stroke-width="1.3"/><text x="341.7" y="442" font-size="19">1</text><text x="412.5" y="443" font-size="19" text-anchor="middle">0</text><text x="483.79999999999995" y="443" font-size="19" text-anchor="middle">1</text><text x="434" y="456" font-size="19" font-style="italic">φ</text><text x="447.3" y="460.4" font-size="25.5" style="stroke:none">/</text><text x="454.9" y="456" font-size="19">π</text><g transform="translate(313.8,374.2) rotate(-90)"><text x="-1" y="0" font-size="19" font-style="italic">e</text><text x="8.5" y="0" font-size="19" font-style="italic">I</text><text x="16.3" y="0" font-size="19" font-style="italic">R</text><text x="27.5" y="3.2" font-size="14">N</text><text x="39.2" y="4.1" font-size="25.7" style="stroke:none">/</text><text x="48.9" y="0" font-size="19" font-style="italic">Δ</text></g><rect x="0" y="97" width="2" height="3" fill="#999"/><text x="417" y="311" font-size="16" font-style="italic" style="stroke:none">3</text><text x="433" y="318" font-size="16" font-style="italic" style="stroke:none">2</text><text x="450.5" y="321.8" font-size="16" font-style="italic" style="stroke:none">1</text></svg></div></body></html>
